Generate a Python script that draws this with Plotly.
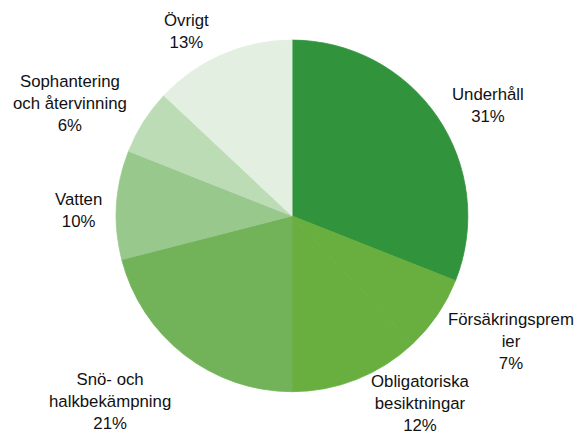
import plotly.graph_objects as go

categories = ["Underhåll", "Försäkringspremier", "Obligatoriska besiktningar",
              "Snö- och halkbekämpning", "Vatten", "Sophantering och återvinning", "Övrigt"]
display_labels = ["Underhåll", "Försäkringsprem<br>ier", "Obligatoriska<br>besiktningar",
                  "Snö- och<br>halkbekämpning", "Vatten", "Sophantering<br>och återvinning", "Övrigt"]
values = [31, 7, 12, 21, 10, 6, 13]
colors = ["#32933D", "#68AF3F", "#68AF3F", "#72B35A", "#98C88C", "#BCDCB6", "#E3F0E1"]

# label anchor positions (paper coords, block centers)
label_pos = [(0.832, 0.764), (0.870, 0.235), (0.716, 0.097), (0.188, 0.101),
             (0.133, 0.530), (0.120, 0.769), (0.318, 0.930)]

fig = go.Figure()
fig.add_trace(go.Pie(
    labels=categories, values=values, sort=False, direction="clockwise", rotation=0,
    marker=dict(colors=colors, line=dict(width=0.8, color=colors)),
    textinfo="none", hoverinfo="label+percent", showlegend=False,
    domain=dict(x=[0.198, 0.797], y=[0.123, 0.911]),
))

for lab, v, (px, py) in zip(display_labels, values, label_pos):
    fig.add_annotation(x=px, y=py, xref="paper", yref="paper", showarrow=False,
                       xanchor="center", yanchor="middle",
                       text=f"{lab}<br>{v}%", align="center",
                       font=dict(family="Liberation Sans, Arial, sans-serif", size=16.8, color="#111111"))

fig.update_layout(width=587, height=447, margin=dict(l=0, r=0, t=0, b=0),
                  paper_bgcolor="white", plot_bgcolor="white")
fig.write_html("out.html")
